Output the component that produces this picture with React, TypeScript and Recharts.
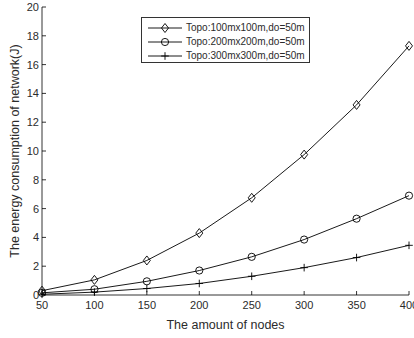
import React from "react"
import { LineChart, Line, XAxis, YAxis, Legend } from "recharts"

const nodes = [50, 100, 150, 200, 250, 300, 350, 400]
const topo100 = [0.3, 1.05, 2.4, 4.3, 6.75, 9.75, 13.2, 17.3]
const topo200 = [0.15, 0.4, 0.95, 1.7, 2.65, 3.85, 5.3, 6.9]
const topo300 = [0.05, 0.2, 0.45, 0.8, 1.3, 1.9, 2.6, 3.45]
const xTicks = [50, 100, 150, 200, 250, 300, 350, 400]
const yTicks = [0, 2, 4, 6, 8, 10, 12, 14, 16, 18, 20]

const data = nodes.map((n, i) => ({ n, a: topo100[i], b: topo200[i], c: topo300[i] }))

const FONT = "'Liberation Sans', Arial, sans-serif"
const TEXT = "#2b2b2b"

function Marker({ kind, cx, cy }: { kind: string; cx: number; cy: number }) {
  if (kind === "diamond")
    return <path d={`M${cx},${cy - 4.5}L${cx + 3.5},${cy}L${cx},${cy + 4.5}L${cx - 3.5},${cy}Z`} fill="none" stroke="#000" strokeWidth={0.9} />
  if (kind === "circle") return <circle cx={cx} cy={cy} r={3.6} fill="none" stroke="#000" strokeWidth={0.9} />
  return <path d={`M${cx - 3.8},${cy}H${cx + 3.8}M${cx},${cy - 3.8}V${cy + 3.8}`} stroke="#000" strokeWidth={0.9} />
}

const series = [
  { key: "a", name: "Topo:100mx100m,do=50m", kind: "diamond" },
  { key: "b", name: "Topo:200mx200m,do=50m", kind: "circle" },
  { key: "c", name: "Topo:300mx300m,do=50m", kind: "plus" },
]

// ticks point inward, like the original plot
function XTick(props: any) {
  const { y, payload } = props
  const x = payload.coordinate ?? props.x
  return (
    <g>
      <line x1={x} x2={x} y1={y} y2={y - 4} stroke="#000" strokeWidth={0.8} />
      <text x={x} y={y + 14} textAnchor="middle" fontSize={11} fill={TEXT} fontFamily={FONT}>{payload.value}</text>
    </g>
  )
}

function YTick(props: any) {
  const { x, payload } = props
  const y = payload.coordinate ?? props.y
  return (
    <g>
      <line x1={x} x2={x + 4} y1={y} y2={y} stroke="#000" strokeWidth={0.8} />
      <text x={x - 3} y={y + 4} textAnchor="end" fontSize={11} fill={TEXT} fontFamily={FONT}>{payload.value}</text>
    </g>
  )
}

function LegendBox() {
  return (
    <div style={{ width: 169, height: 46, border: "1px solid #333", background: "#fff", boxSizing: "border-box", position: "relative" }}>
      {series.map((s, i) => (
        <div key={s.key} style={{ position: "absolute", left: 0, top: 3 + i * 14, height: 14, display: "flex", alignItems: "center" }}>
          <svg width={44} height={14} style={{ display: "block" }}>
            <line x1={6} x2={40} y1={7} y2={7} stroke="#000" strokeWidth={0.9} />
            <Marker kind={s.kind} cx={23} cy={7} />
          </svg>
          <span style={{ fontFamily: FONT, fontSize: 10, lineHeight: "14px", color: TEXT, whiteSpace: "nowrap" }}>{s.name}</span>
        </div>
      ))}
    </div>
  )
}

export default function App() {
  return (
    <div style={{ position: "absolute", left: 0, top: 0, width: 414, height: 338, background: "#fff", overflow: "hidden" }}>
      <LineChart width={414} height={338} data={data} margin={{ top: 7, right: 5, left: 0, bottom: 0 }}>
        <XAxis
          dataKey="n"
          type="number"
          domain={[50, 400]}
          ticks={xTicks}
          interval={0}
          tickSize={0}
          tickMargin={0}
          tick={<XTick />}
          height={43}
          axisLine={{ stroke: "#000", strokeWidth: 0.8 }}
          label={{ value: "The amount of nodes", position: "insideBottom", offset: 9, fontSize: 12.5, fill: TEXT, fontFamily: FONT }}
        />
        <YAxis
          type="number"
          domain={[0, 20]}
          ticks={yTicks}
          interval={0}
          tickSize={0}
          tickMargin={0}
          tick={<YTick />}
          width={42}
          axisLine={{ stroke: "#000", strokeWidth: 0.8 }}
          label={{ value: "The energy consumption of network(J)", angle: -90, position: "insideLeft", dx: 10, fontSize: 12.5, fill: TEXT, fontFamily: FONT, style: { textAnchor: "middle" } }}
        />
        <Legend verticalAlign="middle" align="center" content={<LegendBox />} wrapperStyle={{ left: 141, top: 17, width: 169 }} />
        {series.map((s) => (
          <Line
            key={s.key}
            dataKey={s.key}
            name={s.name}
            type="linear"
            stroke="#000"
            strokeWidth={0.9}
            dot={(p: any) => <Marker key={`${s.key}-${p.index}`} kind={s.kind} cx={p.cx} cy={p.cy} />}
            activeDot={false}
            isAnimationActive={false}
          />
        ))}
      </LineChart>
    </div>
  )
}
